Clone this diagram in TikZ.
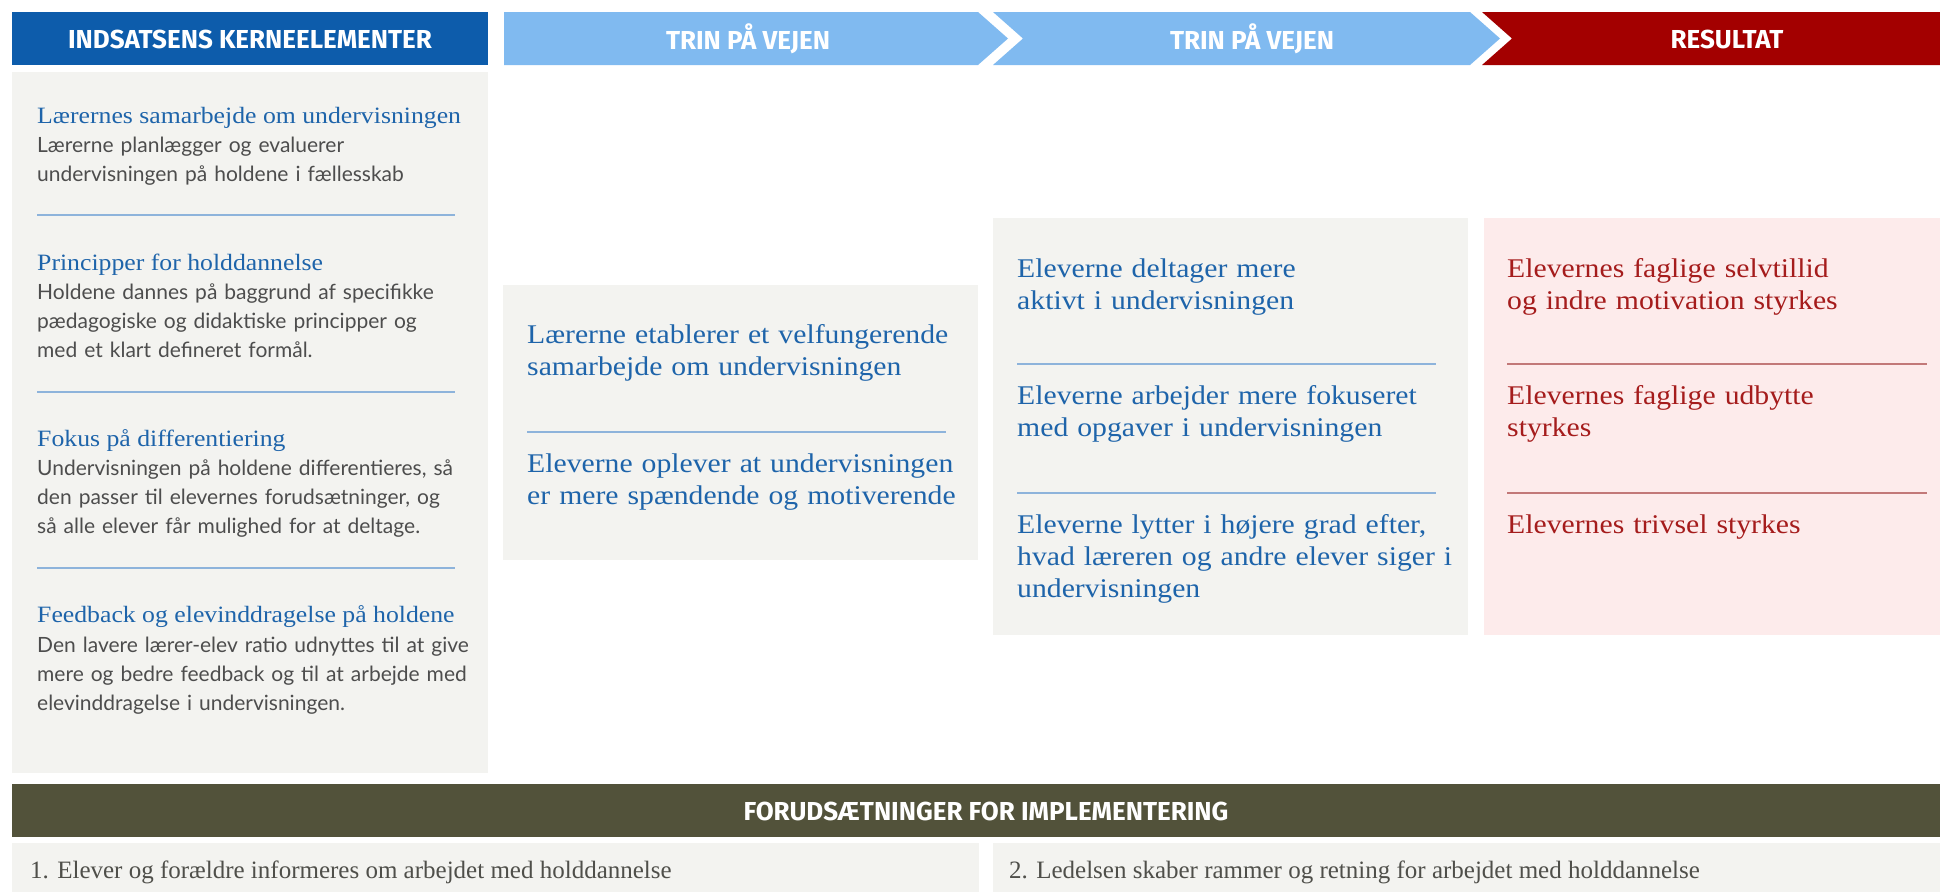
\documentclass[tikz,border=0pt]{standalone}
\usepackage{fontspec}
\setmainfont{Liberation Serif}
\newfontfamily\serifw[FakeStretch=1.1]{Liberation Serif}
\newfontfamily\sansb{Lato}
\newfontfamily\headf{Fira Sans}
\definecolor{hdrblue}{HTML}{0D5CAB}
\definecolor{arrblue}{HTML}{80BAF0}
\definecolor{resbar}{HTML}{A30000}
\definecolor{olive}{HTML}{52523A}
\definecolor{panel}{HTML}{F3F3F0}
\definecolor{pinkbg}{HTML}{FDEBEB}
\definecolor{titleblue}{HTML}{1E64AA}
\definecolor{bodygray}{HTML}{4D4D4D}
\definecolor{resred}{HTML}{A51C1C}
\definecolor{sepblue}{HTML}{8DB3DB}
\definecolor{sepred}{HTML}{C27878}
\definecolor{botgray}{HTML}{4F4F4A}
\begin{document}
\begin{tikzpicture}[x=1pt,y=-1pt,
 ttl/.style={anchor=base west,inner sep=0pt,text=titleblue,font=\serifw\fontsize{23.4}{29}\selectfont},
 bdy/.style={anchor=base west,inner sep=0pt,text=bodygray,font=\sansb\fontsize{21}{29.3}\selectfont,text width=460pt,align=left},
 stp/.style={anchor=base west,inner sep=0pt,text=titleblue,font=\serifw\fontsize{27}{32}\selectfont,text width=460pt,align=left},
 res/.style={stp,text=resred},
 hdr/.style={text=white,font=\headf\bfseries\fontsize{26}{30}\selectfont,inner sep=0pt},
 bot/.style={anchor=base west,inner sep=0pt,text=botgray,font=\fontsize{25}{30}\selectfont},
 sepb/.style={draw=sepblue,line width=1.5pt},
 sepr/.style={draw=sepred,line width=1.5pt}]
\fill[white] (0,0) rectangle (1940,892);
\useasboundingbox (0,0) rectangle (1940,892);
% header bars
\fill[hdrblue] (12,12) rectangle (488,65);
\fill[arrblue] (504,12) -- (978,12) -- (1008,38.5) -- (978,65) -- (504,65) -- cycle;
\fill[arrblue] (993,12) -- (1470,12) -- (1500,38.5) -- (1470,65) -- (993,65) -- (1023,38.5) -- cycle;
\fill[resbar] (1482,12) -- (1940,12) -- (1940,65) -- (1482,65) -- (1512,38.5) -- cycle;
\node[hdr] (h1) at (250,39) {INDSATSENS KERNEELEMENTER};
\node[hdr] (h2) at (748,39) {TRIN PÅ VEJEN};
\node[hdr] (h3) at (1252,39) {TRIN PÅ VEJEN};
\node[hdr] (h4) at (1727,39) {RESULTAT};
% panels
\fill[panel] (12,72) rectangle (488,773);
\fill[panel] (503,285) rectangle (978,560);
\fill[panel] (993,218) rectangle (1468,635);
\fill[pinkbg] (1484,218) rectangle (1940,635);
% left panel content
\node[ttl] (t1) at (37,123) {Lærernes samarbejde om undervisningen};
\node[bdy] (b1) at (37,152) {Lærerne planlægger og evaluerer\\undervisningen på holdene i fællesskab};
\draw[sepb] (37,215) -- (455,215);
\node[ttl] (t2) at (37,270) {Principper for holddannelse};
\node[bdy] (b2) at (37,299) {Holdene dannes på baggrund af specifikke\\pædagogiske og didaktiske principper og\\med et klart defineret formål.};
\draw[sepb] (37,392) -- (455,392);
\node[ttl] (t3) at (37,446) {Fokus på differentiering};
\node[bdy] (b3) at (37,475) {Undervisningen på holdene differentieres, så\\den passer til elevernes forudsætninger, og\\så alle elever får mulighed for at deltage.};
\draw[sepb] (37,568) -- (455,568);
\node[ttl] (t4) at (37,622) {Feedback og elevinddragelse på holdene};
\node[bdy] (b4) at (37,652) {Den lavere lærer-elev ratio udnyttes til at give\\mere og bedre feedback og til at arbejde med\\elevinddragelse i undervisningen.};
% column 2
\node[stp] (s1) at (527,343) {Lærerne etablerer et velfungerende\\samarbejde om undervisningen};
\draw[sepb] (527,432) -- (946,432);
\node[stp] (s2) at (527,472) {Eleverne oplever at undervisningen\\er mere spændende og motiverende};
% column 3
\node[stp] (s3) at (1017,277) {Eleverne deltager mere\\aktivt i undervisningen};
\draw[sepb] (1017,364) -- (1436,364);
\node[stp] (s4) at (1017,404) {Eleverne arbejder mere fokuseret\\med opgaver i undervisningen};
\draw[sepb] (1017,493) -- (1436,493);
\node[stp] (s5) at (1017,533) {Eleverne lytter i højere grad efter,\\hvad læreren og andre elever siger i\\undervisningen};
% column 4
\node[res] (r1) at (1507,277) {Elevernes faglige selvtillid\\og indre motivation styrkes};
\draw[sepr] (1507,364) -- (1927,364);
\node[res] (r2) at (1507,404) {Elevernes faglige udbytte\\styrkes};
\draw[sepr] (1507,493) -- (1927,493);
\node[res] (r3) at (1507,533) {Elevernes trivsel styrkes};
% bottom
\fill[olive] (12,784) rectangle (1940,837);
\node[hdr] (h5) at (986,811) {FORUDSÆTNINGER FOR IMPLEMENTERING};
\fill[panel] (12,843) rectangle (979,892);
\fill[panel] (993,843) rectangle (1940,892);
\node[bot] (f1) at (30,878) {1. Elever og forældre informeres om arbejdet med holddannelse};
\node[bot] (f2) at (1009,878) {2. Ledelsen skaber rammer og retning for arbejdet med holddannelse};
\end{tikzpicture}
\end{document}
